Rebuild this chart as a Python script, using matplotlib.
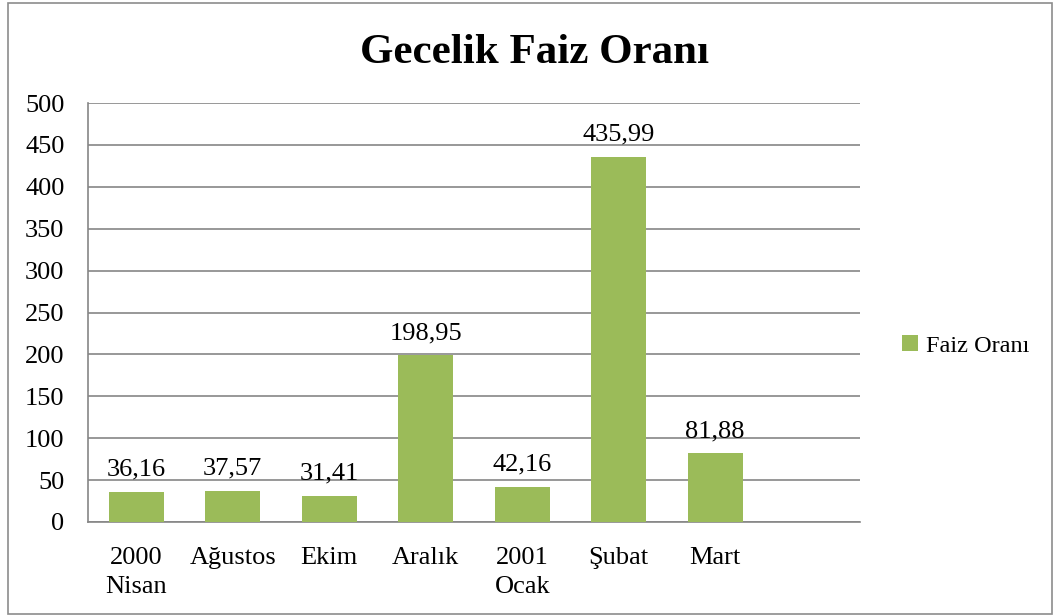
import matplotlib.pyplot as plt
from matplotlib.patches import Rectangle

plt.rcParams['font.family'] = ['Liberation Serif', 'DejaVu Serif']

# data
categories = ['2000\nNisan', 'Ağustos', 'Ekim', 'Aralık', '2001\nOcak', 'Şubat', 'Mart', '']
values = [36.16, 37.57, 31.41, 198.95, 42.16, 435.99, 81.88, None]
labels = ['36,16', '37,57', '31,41', '198,95', '42,16', '435,99', '81,88']
yticks = [0, 50, 100, 150, 200, 250, 300, 350, 400, 450, 500]

bar_color = '#9BBB59'
grid_color = '#868686'

fig = plt.figure(figsize=(10.55, 6.16), dpi=100)
fig.patches.append(Rectangle((8 / 1055, 2 / 616), 1044 / 1055, 611 / 616,
                             transform=fig.transFigure, fill=False,
                             edgecolor='#8c8c8c', linewidth=1.2))

ax = fig.add_axes([88 / 1055, 1 - 522 / 616, (860 - 88) / 1055, (522 - 103) / 616])

xs = list(range(len(categories)))
vals = [v if v is not None else 0 for v in values]
bars = ax.bar(xs, vals, width=0.57, color=bar_color, label='Faiz Oranı', zorder=3)

for x, v, lab in zip(xs, values, labels):
    ax.annotate(lab, (x, v), xytext=(0, 8), textcoords='offset points',
                ha='center', va='bottom', fontsize=19, zorder=4)

ax.set_xlim(-0.5, len(categories) - 0.5)
ax.set_ylim(0, 500)
ax.set_yticks(yticks)
ax.set_xticks(xs)
ax.set_xticklabels(categories, fontsize=19, linespacing=1.4)
ax.tick_params(axis='y', labelsize=19, length=0, pad=17)
ax.tick_params(axis='x', length=0, pad=18)

ax.yaxis.grid(True, color=grid_color, linewidth=1.2, zorder=0)
for side in ['top', 'right']:
    ax.spines[side].set_visible(False)
ax.spines['left'].set_color(grid_color)
ax.spines['bottom'].set_color(grid_color)
ax.spines['left'].set_linewidth(1.2)
ax.spines['bottom'].set_linewidth(1.2)

fig.text(535 / 1055, 1 - 53 / 616, 'Gecelik Faiz Oranı', ha='center', va='center',
         fontsize=31, fontweight='bold')

fig.legend(handles=[bars], loc='center left', bbox_to_anchor=(880 / 1055, 1 - 346 / 616),
           frameon=False, fontsize=17.5, handlelength=0.65, handleheight=0.65,
           handletextpad=0.35)

fig.savefig('out.png', dpi=100)
